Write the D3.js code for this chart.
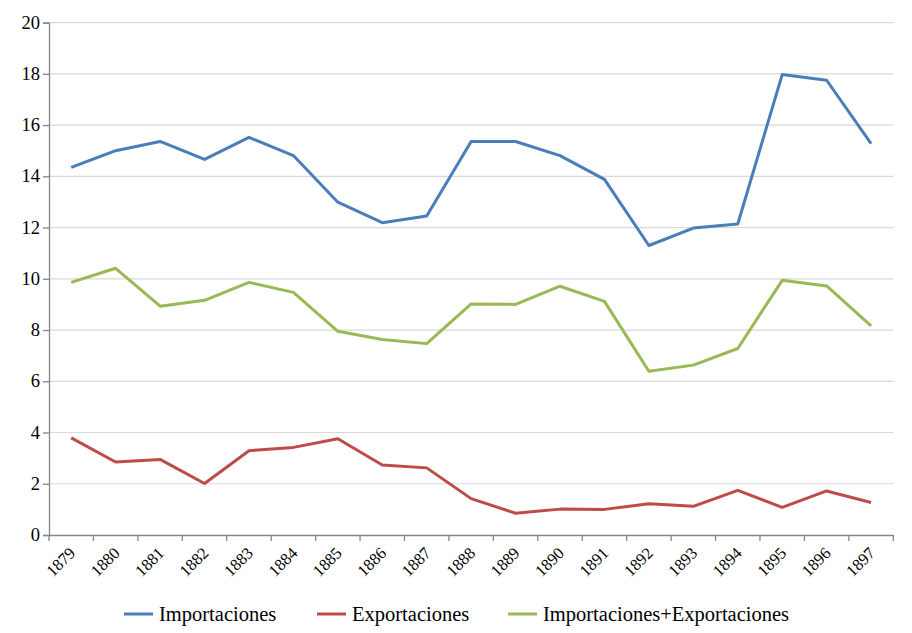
<!DOCTYPE html>
<html><head><meta charset="utf-8">
<script src="https://cdn.jsdelivr.net/npm/d3@7"></script>
<style>body{margin:0;background:#fff}svg{display:block}
.lab{font-family:'Liberation Serif',serif;fill:#000}</style>
</head><body><svg id="c" width="912" height="633"></svg>
<script>
const years = ["1879","1880","1881","1882","1883","1884","1885","1886","1887","1888","1889","1890","1891","1892","1893","1894","1895","1896","1897"];
const importaciones = [14.35,15.0,15.36,14.66,15.52,14.81,12.99,12.19,12.45,15.36,15.36,14.81,13.88,11.3,11.98,12.14,17.97,17.75,15.28];
const exportaciones = [3.79,2.85,2.95,2.01,3.29,3.42,3.76,2.73,2.62,1.42,0.85,1.01,1.0,1.22,1.12,1.74,1.08,1.72,1.27];
const total = [9.86,10.41,8.93,9.16,9.86,9.47,7.95,7.63,7.47,9.02,9.0,9.71,9.12,6.39,6.63,7.28,9.94,9.72,8.16];
const yTicks = [0,2,4,6,8,10,12,14,16,18,20];
const seriesNames = ["Importaciones","Exportaciones","Importaciones+Exportaciones"];
const colors = ["#4a7ebb","#be4b48","#98b954"];

const svg = d3.select("#c");
const L = 49, R = 893.3, T = 22.6, B = 535;
const x = d3.scaleBand().domain(years).range([L, R]);
const y = d3.scaleLinear().domain([0, 20]).range([B, T]);

// gridlines
svg.append("g").selectAll("line").data(yTicks.filter(d => d > 0)).join("line")
  .attr("x1", L).attr("x2", R).attr("y1", d => y(d)).attr("y2", d => y(d))
  .attr("stroke", "#d9d9d9").attr("stroke-width", 1.2);

// y axis
const ya = svg.append("g").attr("transform", `translate(${L},0)`)
  .call(d3.axisLeft(y).tickValues(yTicks).tickSize(6).tickFormat(""));
ya.select(".domain").attr("stroke", "#868686").attr("stroke-width", 1.3);
ya.selectAll(".tick line").attr("stroke", "#868686").attr("stroke-width", 1.3);
svg.append("g").selectAll("text").data(yTicks).join("text")
  .attr("class", "lab").attr("font-size", 18.5)
  .attr("x", L - 9).attr("y", d => y(d)).attr("dy", "0.33em")
  .attr("text-anchor", "end").text(d => d);

// x axis
const xa = svg.append("g").attr("transform", `translate(0,${B})`)
  .call(d3.axisBottom(x).tickSize(0).tickSizeOuter(0).tickFormat(""));
xa.select(".domain").attr("stroke", "#868686").attr("stroke-width", 1.3);
const bounds = years.map(d => x(d)).concat([R]);
xa.append("g").selectAll("line").data(bounds).join("line")
  .attr("x1", d => d).attr("x2", d => d).attr("y1", 0).attr("y2", 6)
  .attr("stroke", "#868686").attr("stroke-width", 1.3);
svg.append("g").selectAll("text").data(years).join("text")
  .attr("class", "lab").attr("font-size", 16.5)
  .attr("text-anchor", "end").attr("dy", "0.35em")
  .attr("transform", d => `translate(${x(d) + x.bandwidth() / 2 + 1},${B + 15}) rotate(-45)`)
  .text(d => d);

// lines
const data = [importaciones, exportaciones, total];
const line = d3.line().x((d, i) => x(years[i]) + x.bandwidth() / 2).y(d => y(d));
svg.append("g").selectAll("path").data(data).join("path")
  .attr("d", d => line(d)).attr("fill", "none")
  .attr("stroke", (d, i) => colors[i]).attr("stroke-width", 3)
  .attr("stroke-linejoin", "round");

// legend
const legX = [124, 317, 508];
const lg = svg.append("g").selectAll("g").data(seriesNames).join("g")
  .attr("transform", (d, i) => `translate(${legX[i]},614)`);
lg.append("line").attr("x1", 0).attr("x2", 29).attr("y1", 0).attr("y2", 0)
  .attr("stroke", (d, i) => colors[i]).attr("stroke-width", 3);
lg.append("text").attr("class", "lab").attr("x", 35).attr("y", 0).attr("dy", "0.35em")
  .attr("font-size", 20.5).text(d => d);
</script></body></html>
